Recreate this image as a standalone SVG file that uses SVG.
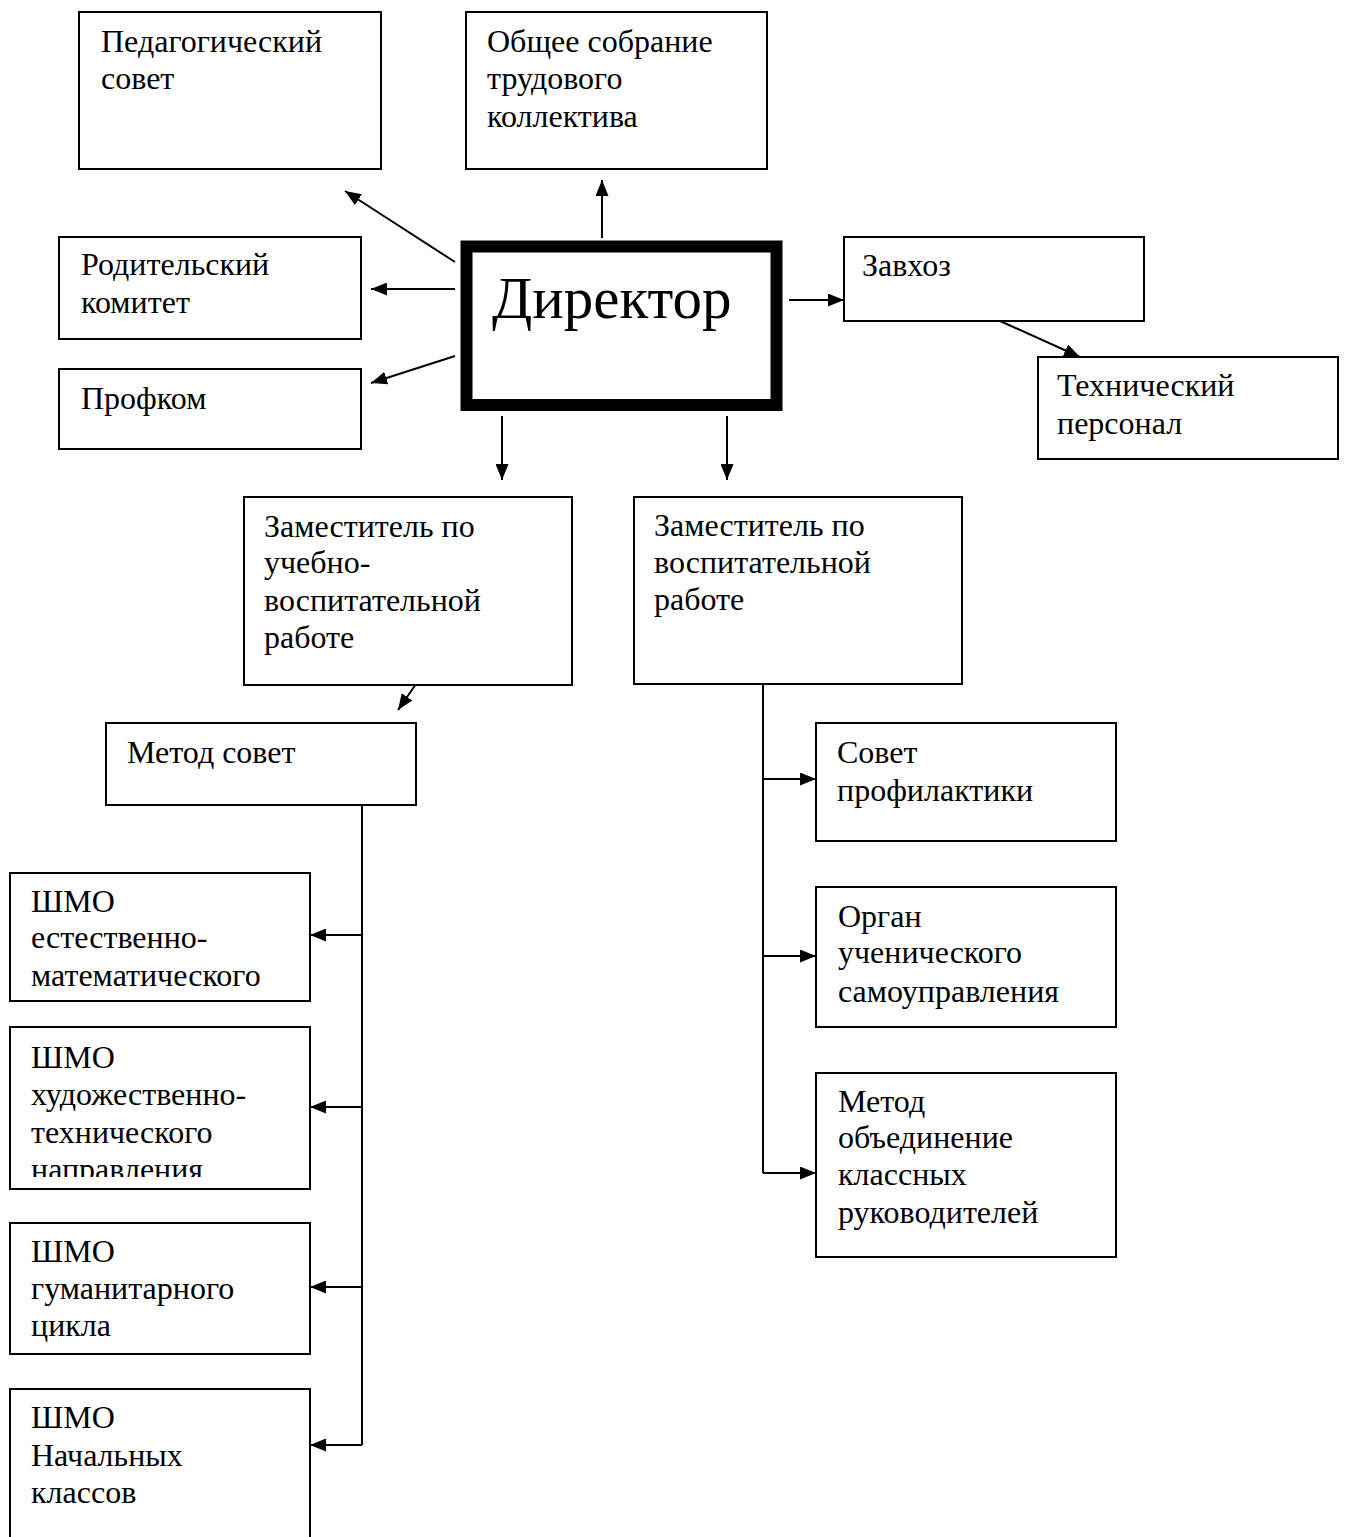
<svg xmlns="http://www.w3.org/2000/svg" width="1346" height="1537" viewBox="0 0 1346 1537">
<style>
.box{fill:#fff;stroke:#000;stroke-width:2}
.t{font-family:"Liberation Serif","Times New Roman",serif;font-size:32px;fill:#000}
.big{font-family:"Liberation Serif","Times New Roman",serif;font-size:59px;fill:#000}
.c{fill:none;stroke:#000;stroke-width:2}
</style>
<defs>
<marker id="ah" markerUnits="userSpaceOnUse" markerWidth="16" markerHeight="13" refX="16" refY="6.5" orient="auto">
<path d="M0,0 L16,6.5 L0,13 z" fill="#000"/>
</marker>
<clipPath id="clipHud"><rect x="0" y="1020" width="320" height="157"/></clipPath>
</defs>
<rect width="1346" height="1537" fill="#fff"/>
<g id="connectors">
<line class="c" x1="455" y1="262" x2="345" y2="191" marker-end="url(#ah)"/>
<line class="c" x1="455" y1="289" x2="371" y2="289" marker-end="url(#ah)"/>
<line class="c" x1="455" y1="356" x2="371" y2="383" marker-end="url(#ah)"/>
<line class="c" x1="602" y1="238" x2="602" y2="180" marker-end="url(#ah)"/>
<line class="c" x1="789" y1="300" x2="844" y2="300" marker-end="url(#ah)"/>
<line class="c" x1="1000" y1="321" x2="1080" y2="357" marker-end="url(#ah)"/>
<line class="c" x1="502" y1="416" x2="502" y2="480" marker-end="url(#ah)"/>
<line class="c" x1="727" y1="416" x2="727" y2="480" marker-end="url(#ah)"/>
<line class="c" x1="416" y1="684" x2="398" y2="710" marker-end="url(#ah)"/>
<polyline class="c" points="362,805 362,1445"/>
<line class="c" x1="362" y1="935" x2="310" y2="935" marker-end="url(#ah)"/>
<line class="c" x1="362" y1="1107" x2="310" y2="1107" marker-end="url(#ah)"/>
<line class="c" x1="362" y1="1287" x2="310" y2="1287" marker-end="url(#ah)"/>
<line class="c" x1="362" y1="1445" x2="310" y2="1445" marker-end="url(#ah)"/>
<polyline class="c" points="763,684 763,1173"/>
<line class="c" x1="763" y1="779" x2="816" y2="779" marker-end="url(#ah)"/>
<line class="c" x1="763" y1="956" x2="816" y2="956" marker-end="url(#ah)"/>
<line class="c" x1="763" y1="1173" x2="816" y2="1173" marker-end="url(#ah)"/>
</g>
<g id="pedsovet">
<rect class="box" x="79" y="12" width="302" height="157"/>
<text class="t" x="101" y="52">Педагогический</text>
<text class="t" x="101" y="89">совет</text>
</g>
<g id="obshee">
<rect class="box" x="466" y="12" width="301" height="157"/>
<text class="t" x="487" y="52">Общее собрание</text>
<text class="t" x="487" y="89">трудового</text>
<text class="t" x="487" y="127">коллектива</text>
</g>
<g id="roditel">
<rect class="box" x="59" y="237" width="302" height="102"/>
<text class="t" x="81" y="275">Родительский</text>
<text class="t" x="81" y="313">комитет</text>
</g>
<g id="profkom">
<rect class="box" x="59" y="369" width="302" height="80"/>
<text class="t" x="81" y="409">Профком</text>
</g>
<g id="director">
<rect x="466.5" y="246.5" width="310" height="158.5" fill="#fff" stroke="#000" stroke-width="12"/>
<text class="big" x="492" y="318">Директор</text>
</g>
<g id="zavhoz">
<rect class="box" x="844" y="237" width="300" height="84"/>
<text class="t" x="862" y="276">Завхоз</text>
</g>
<g id="tehpersonal">
<rect class="box" x="1038" y="357" width="300" height="102"/>
<text class="t" x="1057" y="396">Технический</text>
<text class="t" x="1057" y="434">персонал</text>
</g>
<g id="zam-uvr">
<rect class="box" x="244" y="497" width="328" height="188"/>
<text class="t" x="264" y="537">Заместитель по</text>
<text class="t" x="264" y="573">учебно-</text>
<text class="t" x="264" y="611">воспитательной</text>
<text class="t" x="264" y="648">работе</text>
</g>
<g id="zam-vr">
<rect class="box" x="634" y="497" width="328" height="187"/>
<text class="t" x="654" y="536">Заместитель по</text>
<text class="t" x="654" y="573">воспитательной</text>
<text class="t" x="654" y="610">работе</text>
</g>
<g id="metodsovet">
<rect class="box" x="106" y="723" width="310" height="82"/>
<text class="t" x="127" y="763">Метод совет</text>
</g>
<g id="shmo-est">
<rect class="box" x="10" y="873" width="300" height="128"/>
<text class="t" x="31" y="912">ШМО</text>
<text class="t" x="31" y="948">естественно-</text>
<text class="t" x="31" y="986">математического</text>
</g>
<g id="shmo-hud">
<rect class="box" x="10" y="1027" width="300" height="162"/>
<g clip-path="url(#clipHud)">
<text class="t" x="31" y="1068">ШМО</text>
<text class="t" x="31" y="1105">художественно-</text>
<text class="t" x="31" y="1143">технического</text>
<text class="t" x="31" y="1180">направления</text>
</g>
</g>
<g id="shmo-gum">
<rect class="box" x="10" y="1223" width="300" height="131"/>
<text class="t" x="31" y="1262">ШМО</text>
<text class="t" x="31" y="1299">гуманитарного</text>
<text class="t" x="31" y="1336">цикла</text>
</g>
<g id="shmo-nach">
<rect class="box" x="10" y="1389" width="300" height="160"/>
<text class="t" x="31" y="1428">ШМО</text>
<text class="t" x="31" y="1466">Начальных</text>
<text class="t" x="31" y="1503">классов</text>
</g>
<g id="sovet-prof">
<rect class="box" x="816" y="723" width="300" height="118"/>
<text class="t" x="837" y="763">Совет</text>
<text class="t" x="837" y="801">профилактики</text>
</g>
<g id="organ">
<rect class="box" x="816" y="887" width="300" height="140"/>
<text class="t" x="838" y="927">Орган</text>
<text class="t" x="838" y="963">ученического</text>
<text class="t" x="838" y="1002">самоуправления</text>
</g>
<g id="metod-obed">
<rect class="box" x="816" y="1073" width="300" height="184"/>
<text class="t" x="838" y="1112">Метод</text>
<text class="t" x="838" y="1148">объединение</text>
<text class="t" x="838" y="1185">классных</text>
<text class="t" x="838" y="1223">руководителей</text>
</g>
</svg>
